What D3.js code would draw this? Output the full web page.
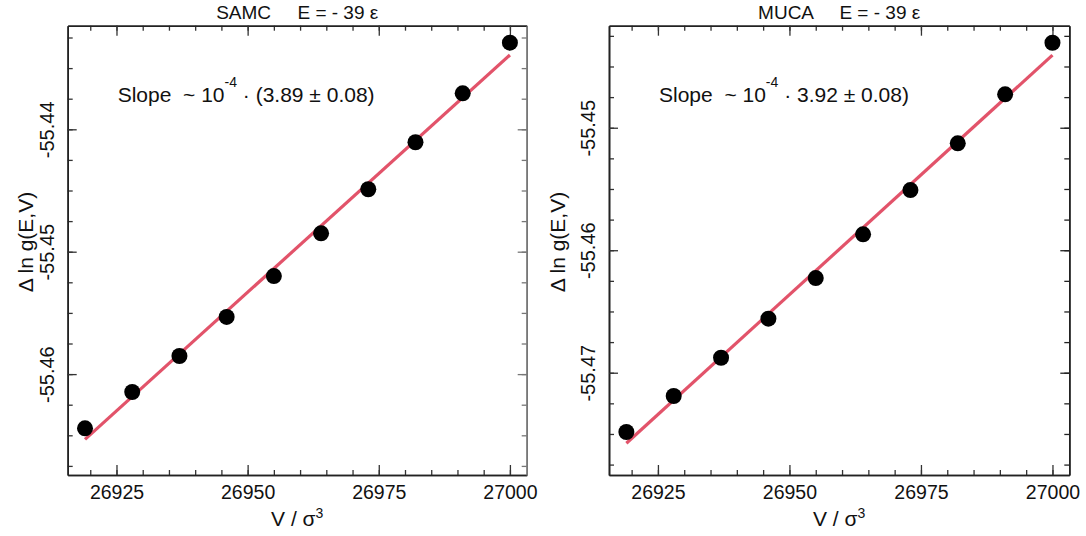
<!DOCTYPE html>
<html>
<head>
<meta charset="utf-8">
<script src="https://cdn.jsdelivr.net/npm/d3@7"></script>
<style>
  html, body { margin: 0; padding: 0; background: #fff; }
  svg { display: block; }
  text { font-family: "Liberation Sans", Arial, Helvetica, sans-serif; fill: #111; }
</style>
</head>
<body>
<svg id="chart" width="1086" height="536"></svg>
<script>
// ---------------- data ----------------
const volumes = [26919, 26928, 26937, 26946, 26955, 26964, 26973, 26982, 26991, 27000];
const samcValues = [-55.46443, -55.46146, -55.45852, -55.45533, -55.45199, -55.44850, -55.44490, -55.44106, -55.43706, -55.43292];
const mucaValues = [-55.47484, -55.47190, -55.46878, -55.46559, -55.46227, -55.45870, -55.45509, -55.45127, -55.44727, -55.44306];
const fitVolumes = [26919, 27000];
const samcFit = [-55.46533, -55.43393];
const mucaFit = [-55.47576, -55.44407];
const xMajorTicks = [26925, 26950, 26975, 27000];
const xMinorTicks = [26920, 26925, 26930, 26935, 26940, 26945, 26950, 26955, 26960, 26965, 26970, 26975, 26980, 26985, 26990, 26995, 27000];
const samcYMajor = [-55.46, -55.45, -55.44];
const mucaYMajor = [-55.47, -55.46, -55.45];
const panelTitles = ["SAMC", "MUCA"];
const slopeValues = ["(3.89 \u00B1 0.08)", "3.92 \u00B1 0.08)"];

// ---------------- layout ----------------
const svg = d3.select("#chart");
const plotTop = 25.7, plotBottom = 475;
const panels = [
  { name: panelTitles[0], x0: 67.7, x1: 526.7, yDom: [-55.468243, -55.431536], yMajor: samcYMajor, vals: samcValues, fit: samcFit, slope: slopeValues[0], rightColor: "#777", ylabX: 33, tickOff: 14 },
  { name: panelTitles[1], x0: 609, x1: 1069.3, yDom: [-55.47835, -55.44167], yMajor: mucaYMajor, vals: mucaValues, fit: mucaFit, slope: slopeValues[1], rightColor: "#222", ylabX: 565, tickOff: 14 }
];

function minorY(dom) {
  const out = [];
  const start = Math.ceil(dom[0] / 0.0025 - 1e-6);
  const end = Math.floor(dom[1] / 0.0025 + 1e-6);
  for (let i = start; i <= end; i++) out.push(+(i * 0.0025).toFixed(4));
  return out;
}

panels.forEach(p => {
  const x = d3.scaleLinear().domain([26915.7, 27003.2]).range([p.x0, p.x1]);
  const y = d3.scaleLinear().domain(p.yDom).range([plotBottom, plotTop]);
  const g = svg.append("g");
  const yMinor = minorY(p.yDom);
  const fmt = d => d.toFixed(2);

  function styleAxis(sel, color) {
    sel.selectAll(".domain").attr("stroke", color || "#222").attr("stroke-width", 1.6);
    sel.selectAll(".tick line").attr("stroke", color || "#333").attr("stroke-width", 1.3);
  }

  // minor ticks
  g.append("g").attr("transform", `translate(0,${plotBottom})`)
    .call(d3.axisBottom(x).tickValues(xMinorTicks).tickSizeInner(-5).tickSizeOuter(0).tickFormat(""))
    .call(s => styleAxis(s));
  g.append("g").attr("transform", `translate(0,${plotTop})`)
    .call(d3.axisTop(x).tickValues(xMinorTicks).tickSizeInner(-5).tickSizeOuter(0).tickFormat(""))
    .call(s => styleAxis(s));
  g.append("g").attr("transform", `translate(${p.x0},0)`)
    .call(d3.axisLeft(y).tickValues(yMinor).tickSizeInner(-5).tickSizeOuter(0).tickFormat(""))
    .call(s => styleAxis(s));
  g.append("g").attr("transform", `translate(${p.x1},0)`)
    .call(d3.axisRight(y).tickValues(yMinor).tickSizeInner(-5).tickSizeOuter(0).tickFormat(""))
    .call(s => styleAxis(s, p.rightColor));

  // major ticks
  const xb = g.append("g").attr("transform", `translate(0,${plotBottom})`)
    .call(d3.axisBottom(x).tickValues(xMajorTicks).tickSizeInner(-10).tickSizeOuter(0).tickPadding(10).tickFormat(d3.format("d")))
    .call(s => styleAxis(s));
  xb.selectAll("text").attr("font-size", "19.5px").attr("fill", "#111")
    .attr("font-family", '"Liberation Sans", Arial, sans-serif');
  g.append("g").attr("transform", `translate(0,${plotTop})`)
    .call(d3.axisTop(x).tickValues(xMajorTicks).tickSizeInner(-10).tickSizeOuter(0).tickFormat(""))
    .call(s => styleAxis(s));
  const yl = g.append("g").attr("transform", `translate(${p.x0},0)`)
    .call(d3.axisLeft(y).tickValues(p.yMajor).tickSizeInner(-9).tickSizeOuter(0).tickFormat(fmt))
    .call(s => styleAxis(s));
  yl.selectAll("text")
    .attr("x", null).attr("dy", null)
    .attr("transform", `translate(${-p.tickOff},0) rotate(-90)`)
    .attr("text-anchor", "middle")
    .attr("font-size", "20px").attr("fill", "#111")
    .attr("font-family", '"Liberation Sans", Arial, sans-serif');
  g.append("g").attr("transform", `translate(${p.x1},0)`)
    .call(d3.axisRight(y).tickValues(p.yMajor).tickSizeInner(-9).tickSizeOuter(0).tickFormat(""))
    .call(s => styleAxis(s, p.rightColor));

  // fit line
  const line = d3.line().x(d => x(d[0])).y(d => y(d[1]));
  g.append("path")
    .datum(fitVolumes.map((v, i) => [v, p.fit[i]]))
    .attr("d", line)
    .attr("fill", "none")
    .attr("stroke", "#e2536a")
    .attr("stroke-width", 3.2);

  // points
  g.append("g").selectAll("circle")
    .data(volumes.map((v, i) => [v, p.vals[i]]))
    .join("circle")
    .attr("cx", d => x(d[0]))
    .attr("cy", d => y(d[1]))
    .attr("r", 8)
    .attr("fill", "#000");

  const cx = (p.x0 + p.x1) / 2;

  // title
  const t = g.append("text").attr("x", cx).attr("y", 18.5).attr("text-anchor", "middle")
    .attr("font-size", "19px").attr("xml:space", "preserve");
  t.text(p.name + "     E = - 39 \u03B5");

  // slope annotation
  const s = g.append("text").attr("x", p.x0 + 50).attr("y", 101.5).attr("font-size", "21px")
    .attr("xml:space", "preserve");
  s.append("tspan").text("Slope  ~ 10");
  s.append("tspan").attr("dy", -15).attr("font-size", "14px").text("-4");
  s.append("tspan").attr("dy", 15).text(" \u00B7 " + p.slope);

  // x label
  const xl = g.append("text").attr("x", cx).attr("y", 526).attr("text-anchor", "middle").attr("font-size", "21px");
  xl.append("tspan").text("V / \u03C3");
  xl.append("tspan").attr("dy", -8).attr("font-size", "14px").text("3");

  // y label
  g.append("text")
    .attr("transform", `translate(${p.ylabX},242) rotate(-90)`)
    .attr("text-anchor", "middle").attr("font-size", "21px")
    .text("\u0394 ln g(E,V)");
});
</script>
</body>
</html>
